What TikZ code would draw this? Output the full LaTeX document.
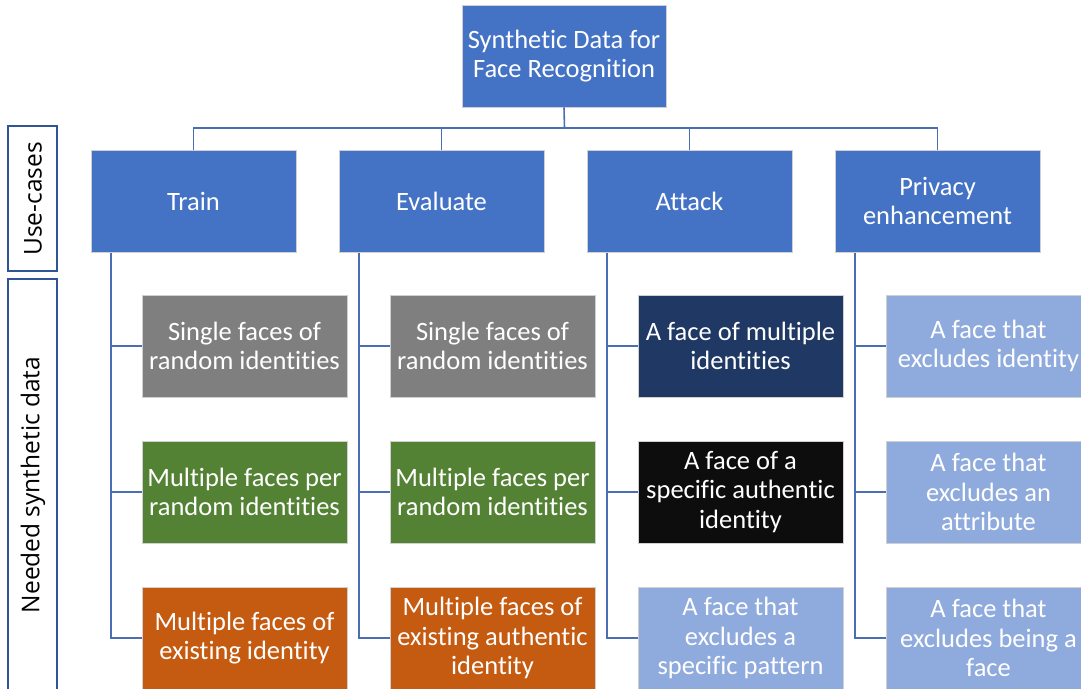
\documentclass[tikz,border=0pt]{standalone}
\usepackage{fontspec}
\setmainfont{Carlito}[Ligatures={NoCommon,NoContextual}]
\newfontfamily\sidefont{Open Sans}
\definecolor{lvlblue}{HTML}{4472C4}
\definecolor{conncol}{HTML}{4A6DB3}
\definecolor{sideedge}{HTML}{2F5597}
\definecolor{boxedge}{HTML}{D0D0D0}
\definecolor{cgray}{HTML}{7F7F7F}
\definecolor{cgreen}{HTML}{548235}
\definecolor{corange}{HTML}{C55A11}
\definecolor{cnavy}{HTML}{203864}
\definecolor{cblack}{HTML}{0D0D0D}
\definecolor{clight}{HTML}{8FAADC}
\tikzset{
  fbox/.style={draw=boxedge, line width=1pt, minimum width=205pt, minimum height=102pt,
    inner sep=0pt, text=white, align=center, font=\fontsize{26.5}{29.5}\selectfont},
  conn/.style={draw=conncol, line width=1.6pt},
  sidebox/.style={draw=sideedge, line width=1.6pt},
  sidetext/.style={rotate=90, font=\sidefont\fontsize{24.5}{28}\selectfont, text=black, inner sep=0pt}
}
\begin{document}
\begin{tikzpicture}[x=1pt,y=-1pt]
\useasboundingbox (0,0) rectangle (1081,688);
\clip (0,0) rectangle (1081,688);
% side labels
\draw[sidebox] (8,126) rectangle (57,271);
\draw[sidebox] (8,279) rectangle (57,695);
\node[sidetext] (uc) at (33,199) {Use-cases};
\node[sidetext] (nsd) at (33,485) {Needed synthetic data};
% root
\node[fbox, fill=lvlblue, minimum width=204pt] (root) at (564,56) {Synthetic Data for\\Face Recognition};
% level 1
\node[fbox, fill=lvlblue] (train) at (193.5,201) {Train};
\node[fbox, fill=lvlblue] (eval) at (441.5,201) {Evaluate};
\node[fbox, fill=lvlblue] (attack) at (689.5,201) {Attack};
\node[fbox, fill=lvlblue] (priv) at (937.5,201) {Privacy\\enhancement};
% level 2 - train
\node[fbox, fill=cgray] (t1) at (244.5,346) {Single faces of\\random identities};
\node[fbox, fill=cgreen] (t2) at (244.5,492) {Multiple faces per\\random identities};
\node[fbox, fill=corange] (t3) at (244.5,638) {Multiple faces of\\existing identity};
% evaluate
\node[fbox, fill=cgray] (e1) at (492.5,346) {Single faces of\\random identities};
\node[fbox, fill=cgreen] (e2) at (492.5,492) {Multiple faces per\\random identities};
\node[fbox, fill=corange] (e3) at (492.5,638) {Multiple faces of\\existing authentic\\identity};
% attack
\node[fbox, fill=cnavy] (a1) at (740.5,346) {A face of multiple\\identities};
\node[fbox, fill=cblack] (a2) at (740.5,492) {A face of a\\specific authentic\\identity};
\node[fbox, fill=clight] (a3) at (740.5,638) {A face that\\excludes a\\specific pattern};
% privacy
\node[fbox, fill=clight] (p1) at (988.5,346) {A face that\\excludes identity};
\node[fbox, fill=clight] (p2) at (988.5,492) {A face that\\excludes an\\attribute};
\node[fbox, fill=clight] (p3) at (988.5,638) {A face that\\excludes being a\\face};
% connectors root
\coordinate (bus) at (564.5,128);
\draw[conn] (root.south) -- (bus);
\draw[conn] (bus) -| (train.north);
\draw[conn] (bus) -| (eval.north);
\draw[conn] (bus) -| (attack.north);
\draw[conn] (bus) -| (priv.north);
% connectors children
\foreach \pn/\ca/\cb/\cc in {train/t1/t2/t3, eval/e1/e2/e3, attack/a1/a2/a3, priv/p1/p2/p3}{
  \draw[conn] ([xshift=20.5pt]\pn.south west) |- (\cc.west);
  \draw[conn] ([xshift=20.5pt]\pn.south west |- \ca.west) -- (\ca.west);
  \draw[conn] ([xshift=20.5pt]\pn.south west |- \cb.west) -- (\cb.west);
}
\end{tikzpicture}
\end{document}
